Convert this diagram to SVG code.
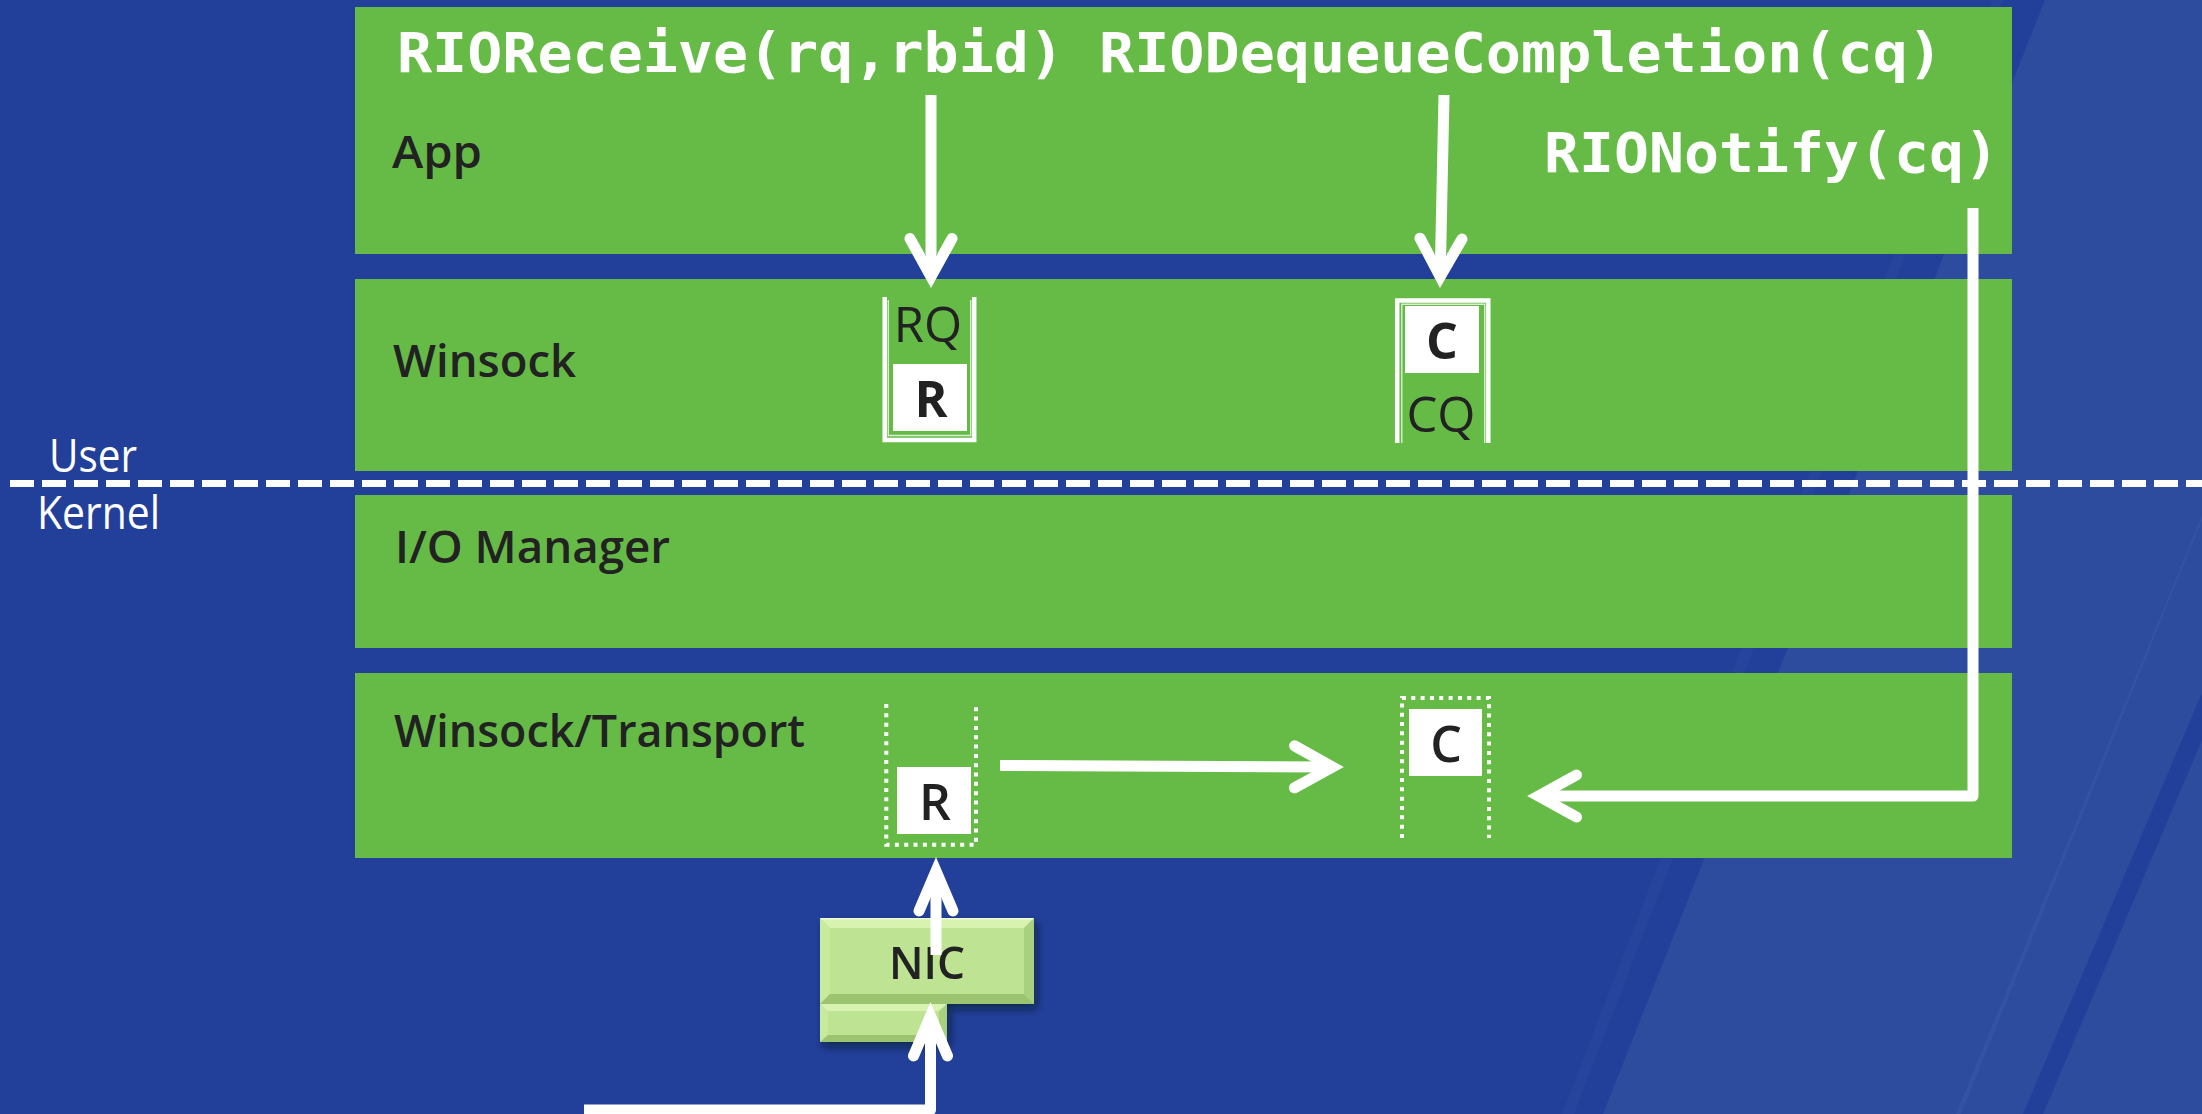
<svg xmlns="http://www.w3.org/2000/svg" width="2202" height="1114" viewBox="0 0 2202 1114">
  <defs>
    <style>
      .band { fill: #66bb47; }
      .lbl { font-family: "Open Sans", "Noto Sans", sans-serif; font-weight: 600; font-size: 46px; fill: #222222; }
      .side { font-family: "Open Sans", "Noto Sans", sans-serif; font-weight: 400; font-size: 46px; fill: #ffffff; }
      .mono { font-family: "DejaVu Sans Mono", "Liberation Mono", monospace; font-weight: bold; font-size: 56px; fill: #ffffff; }
      .qname { font-family: "Open Sans", "Noto Sans", sans-serif; font-weight: 400; font-size: 49px; fill: #222222; text-anchor: middle; }
      .item { font-family: "Open Sans", "Noto Sans", sans-serif; font-size: 50px; fill: #222222; text-anchor: middle; }
      .slot { fill: #ffffff; }
      .rim { fill: none; stroke: #ffffff; stroke-width: 4.5; }
      .rim-in { fill: none; stroke: #ffffff; stroke-width: 1.4; opacity: 0.75; }
      .dots { fill: none; stroke: #ffffff; stroke-width: 4; stroke-dasharray: 4 5.33; }
      .wire { fill: none; stroke: #ffffff; stroke-width: 11; stroke-linejoin: round; }
      .nic-face { fill: #bde393; }
    </style>
    <marker id="chev" markerUnits="userSpaceOnUse" viewBox="-60 -40 80 80" markerWidth="80" markerHeight="80" refX="0" refY="0" orient="auto" overflow="visible">
      <path d="M-38,-21 L0,0 L-38,21" fill="none" stroke="#ffffff" stroke-width="11" stroke-linecap="round" stroke-linejoin="miter" stroke-miterlimit="10"/>
    </marker>
    <marker id="chev-narrow" markerUnits="userSpaceOnUse" viewBox="-60 -40 80 80" markerWidth="80" markerHeight="80" refX="0" refY="0" orient="auto" overflow="visible">
      <path d="M-40,-17 L0,0 L-40,17" fill="none" stroke="#ffffff" stroke-width="11" stroke-linecap="round" stroke-linejoin="miter" stroke-miterlimit="10"/>
    </marker>
    <filter id="shadow" x="-20%" y="-30%" width="140%" height="170%">
      <feDropShadow dx="3" dy="5" stdDeviation="4" flood-color="#000814" flood-opacity="0.55"/>
    </filter>
  </defs>

  <!-- backdrop with diagonal light streaks -->
  <g id="backdrop">
    <rect x="0" y="0" width="2202" height="1114" fill="#22409a"/>
    <polygon points="1992,0 2004,0 1574,1114 1562,1114" fill="#26449c"/>
    <polygon points="2045,0 2202,0 2202,1114 1603,1114" fill="#2e4c9e"/>
    <polygon points="2202,515 2202,520 1961,1114 1956,1114" fill="#3352a1"/>
    <polygon points="2202,693 2202,740 2043,1114 2023,1114" fill="#22409a"/>
  </g>

  <!-- layer bands -->
  <g id="layer-app">
    <rect class="band" x="355" y="7" width="1657" height="247"/>
    <text class="lbl" x="392" y="168" textLength="90" lengthAdjust="spacingAndGlyphs">App</text>
  </g>
  <g id="layer-winsock">
    <rect class="band" x="355" y="279" width="1657" height="192"/>
    <text class="lbl" x="393" y="377" textLength="183" lengthAdjust="spacingAndGlyphs">Winsock</text>
  </g>
  <g id="layer-iomanager">
    <rect class="band" x="355" y="495" width="1657" height="153"/>
    <text class="lbl" x="395" y="563" textLength="275" lengthAdjust="spacingAndGlyphs">I/O Manager</text>
  </g>
  <g id="layer-transport">
    <rect class="band" x="355" y="673" width="1657" height="185"/>
    <text class="lbl" x="394" y="747" textLength="411" lengthAdjust="spacingAndGlyphs">Winsock/Transport</text>
  </g>

  <!-- API calls -->
  <g id="call-receive">
    <text class="mono" x="397" y="72" textLength="667" lengthAdjust="spacingAndGlyphs">RIOReceive(rq,rbid)</text>
  </g>
  <g id="call-dequeue">
    <text class="mono" x="1099" y="72" textLength="844" lengthAdjust="spacingAndGlyphs">RIODequeueCompletion(cq)</text>
  </g>
  <g id="call-notify">
    <text class="mono" x="1544" y="172" textLength="455" lengthAdjust="spacingAndGlyphs">RIONotify(cq)</text>
  </g>

  <!-- user / kernel boundary -->
  <g id="boundary">
    <line x1="10" y1="483.5" x2="2202" y2="483.5" stroke="#ffffff" stroke-width="7" stroke-dasharray="24 8"/>
    <text class="side" x="49" y="472" textLength="88" lengthAdjust="spacingAndGlyphs">User</text>
    <text class="side" x="37" y="529" textLength="123" lengthAdjust="spacingAndGlyphs">Kernel</text>
  </g>

  <!-- request queue (user mode) -->
  <g id="rq">
    <path class="rim" d="M884.7,297 V440 H974.2 V297"/>
    <path class="rim-in" d="M888.3,300 V435.5 H970.7 V300"/>
    <text class="qname" x="928" y="342">RQ</text>
    <rect class="slot" x="893" y="364" width="74" height="67"/>
    <text class="item" x="931" y="416.5" font-weight="700">R</text>
  </g>

  <!-- completion queue (user mode) -->
  <g id="cq">
    <path class="rim" d="M1397.2,443 V300.5 H1488.3 V443"/>
    <path class="rim-in" d="M1401.8,443 V304.3 H1484.7 V443"/>
    <rect class="slot" x="1405" y="306" width="74" height="67"/>
    <text class="item" x="1442" y="359" font-weight="700">C</text>
    <text class="qname" x="1441" y="432">CQ</text>
  </g>

  <!-- request queue (kernel side) -->
  <g id="rq-kernel">
    <path class="dots" d="M886.3,704 V844.7 H976 V704"/>
    <rect class="slot" x="897" y="767" width="74" height="67"/>
    <text class="item" x="935" y="820" font-weight="600">R</text>
  </g>

  <!-- completion queue (kernel side) -->
  <g id="cq-kernel">
    <path class="dots" d="M1402,838 V698 H1489 V838"/>
    <rect class="slot" x="1409" y="709" width="73" height="67"/>
    <text class="item" x="1446" y="762" font-weight="600">C</text>
  </g>

  <!-- network adapter -->
  <g id="nic" filter="url(#shadow)">
    <rect class="nic-face" x="820" y="1004" width="127" height="38"/>
    <polygon points="820,1004 947,1004 939,1011 828,1011" fill="#d8f2b0"/>
    <polygon points="820,1004 828,1011 828,1035 820,1042" fill="#c8ea9f"/>
    <polygon points="947,1004 947,1042 939,1035 939,1011" fill="#a9d07f"/>
    <polygon points="820,1042 828,1035 939,1035 947,1042" fill="#9cc370"/>
    <rect class="nic-face" x="820" y="918" width="214" height="86"/>
    <polygon points="820,918 1034,918 1024,928 830,928" fill="#d8f2b0"/>
    <polygon points="820,918 830,928 830,994 820,1004" fill="#c8ea9f"/>
    <polygon points="1034,918 1034,1004 1024,994 1024,928" fill="#a9d07f"/>
    <polygon points="820,1004 830,994 1024,994 1034,1004" fill="#9cc370"/>
    <line x1="821" y1="918.8" x2="1033" y2="918.8" stroke="#eefcd8" stroke-width="1.6"/>
    <text class="lbl" x="927" y="979" text-anchor="middle" font-size="48" textLength="76" lengthAdjust="spacingAndGlyphs">NIC</text>
  </g>

  <!-- connectors -->
  <g id="connectors">
    <path class="wire" d="M931,95 L931,276.6" marker-end="url(#chev)"/>
    <path class="wire" d="M1444,95 L1440.2,276.6" marker-end="url(#chev)"/>
    <path class="wire" d="M1000,765.5 L1332.5,767" marker-end="url(#chev)"/>
    <path class="wire" d="M1973,208 L1973,796 L1538.5,796" marker-end="url(#chev)"/>
    <path class="wire" d="M936,955 L936,871" marker-end="url(#chev-narrow)"/>
    <path class="wire" d="M584,1110 L930.5,1110 L930.5,1016" marker-end="url(#chev-narrow)"/>
  </g>
</svg>
